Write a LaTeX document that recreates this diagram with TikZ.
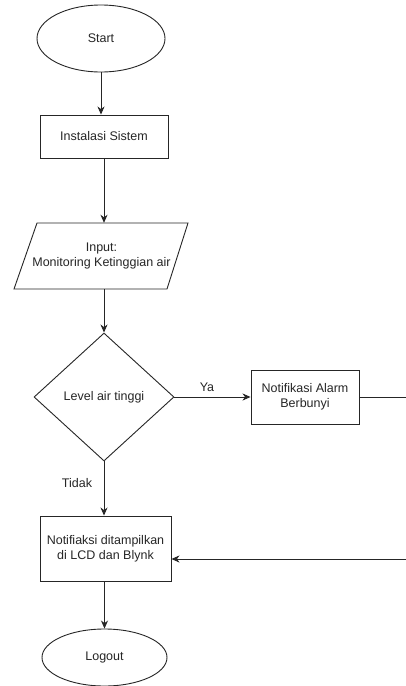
\documentclass[tikz,border=0pt]{standalone}
\usepackage{fontspec}
\setmainfont{Liberation Sans}
\usetikzlibrary{shapes.geometric,arrows.meta,calc}
\begin{document}
\begin{tikzpicture}[x=1pt,y=-1pt,
  every node/.style={font=\fontsize{12.5}{15}\selectfont, text=black!85},
  base/.style={draw=black!85, line width=0.9pt, inner sep=0pt, align=center},
  term/.style={base, ellipse},
  proc/.style={base, rectangle},
  dec/.style={base, diamond},
  arr/.style={draw=black!85, line width=0.9pt, -{Stealth[length=8pt,width=7pt,inset=2.5pt]}},
  ln/.style={draw=black!85, line width=0.9pt},
  lbl/.style={inner sep=0pt}
]
\useasboundingbox (0,0) rectangle (406,686);
\fill[white] (0,0) rectangle (406,686);

\node[term, minimum width=128, minimum height=67] (start) at (101,38.5) {Start};
\node[proc, minimum width=128, minimum height=43] (inst) at (104,136.5) {Instalasi Sistem};
\node[minimum width=153, minimum height=66, inner sep=0pt, align=center] (input) at (101.5,256) {Input:\\Monitoring Ketinggian air};
\draw[ln] (37,223) -- (188,223) -- (167,289) -- (14,289) -- cycle;
\node[dec, minimum width=140, minimum height=128] (cond) at (104,397) {Level air tinggi};
\node[proc, minimum width=108, minimum height=54] (alarm) at (305,397) {Notifikasi Alarm\\Berbunyi};
\node[proc, minimum width=131, minimum height=65] (notif) at (105.5,548.5) {Notifiaksi ditampilkan\\di LCD dan Blynk};
\node[term, minimum width=125, minimum height=57] (logout) at (104.5,657.5) {Logout};
\coordinate (r1) at (406,397);
\coordinate (r2) at (406,559);

\draw[arr] (start.south) -- (start.south |- inst.north);
\draw[arr] (inst.south) -- (inst.south |- input.north);
\draw[arr] (input.south -| cond.north) -- (cond.north);
\draw[arr] (cond.east) -- (alarm.west);
\draw[ln] (alarm.east) -- (r1);
\draw[arr] (cond.south) -- (cond.south |- notif.north);
\draw[arr] (r2) -- (r2 -| notif.east);
\draw[arr] (notif.south -| logout.north) -- (logout.north);

\node[lbl] (ya) at (207,387) {Ya};
\node[lbl] (tidak) at (77,483) {Tidak};
\end{tikzpicture}
\end{document}
